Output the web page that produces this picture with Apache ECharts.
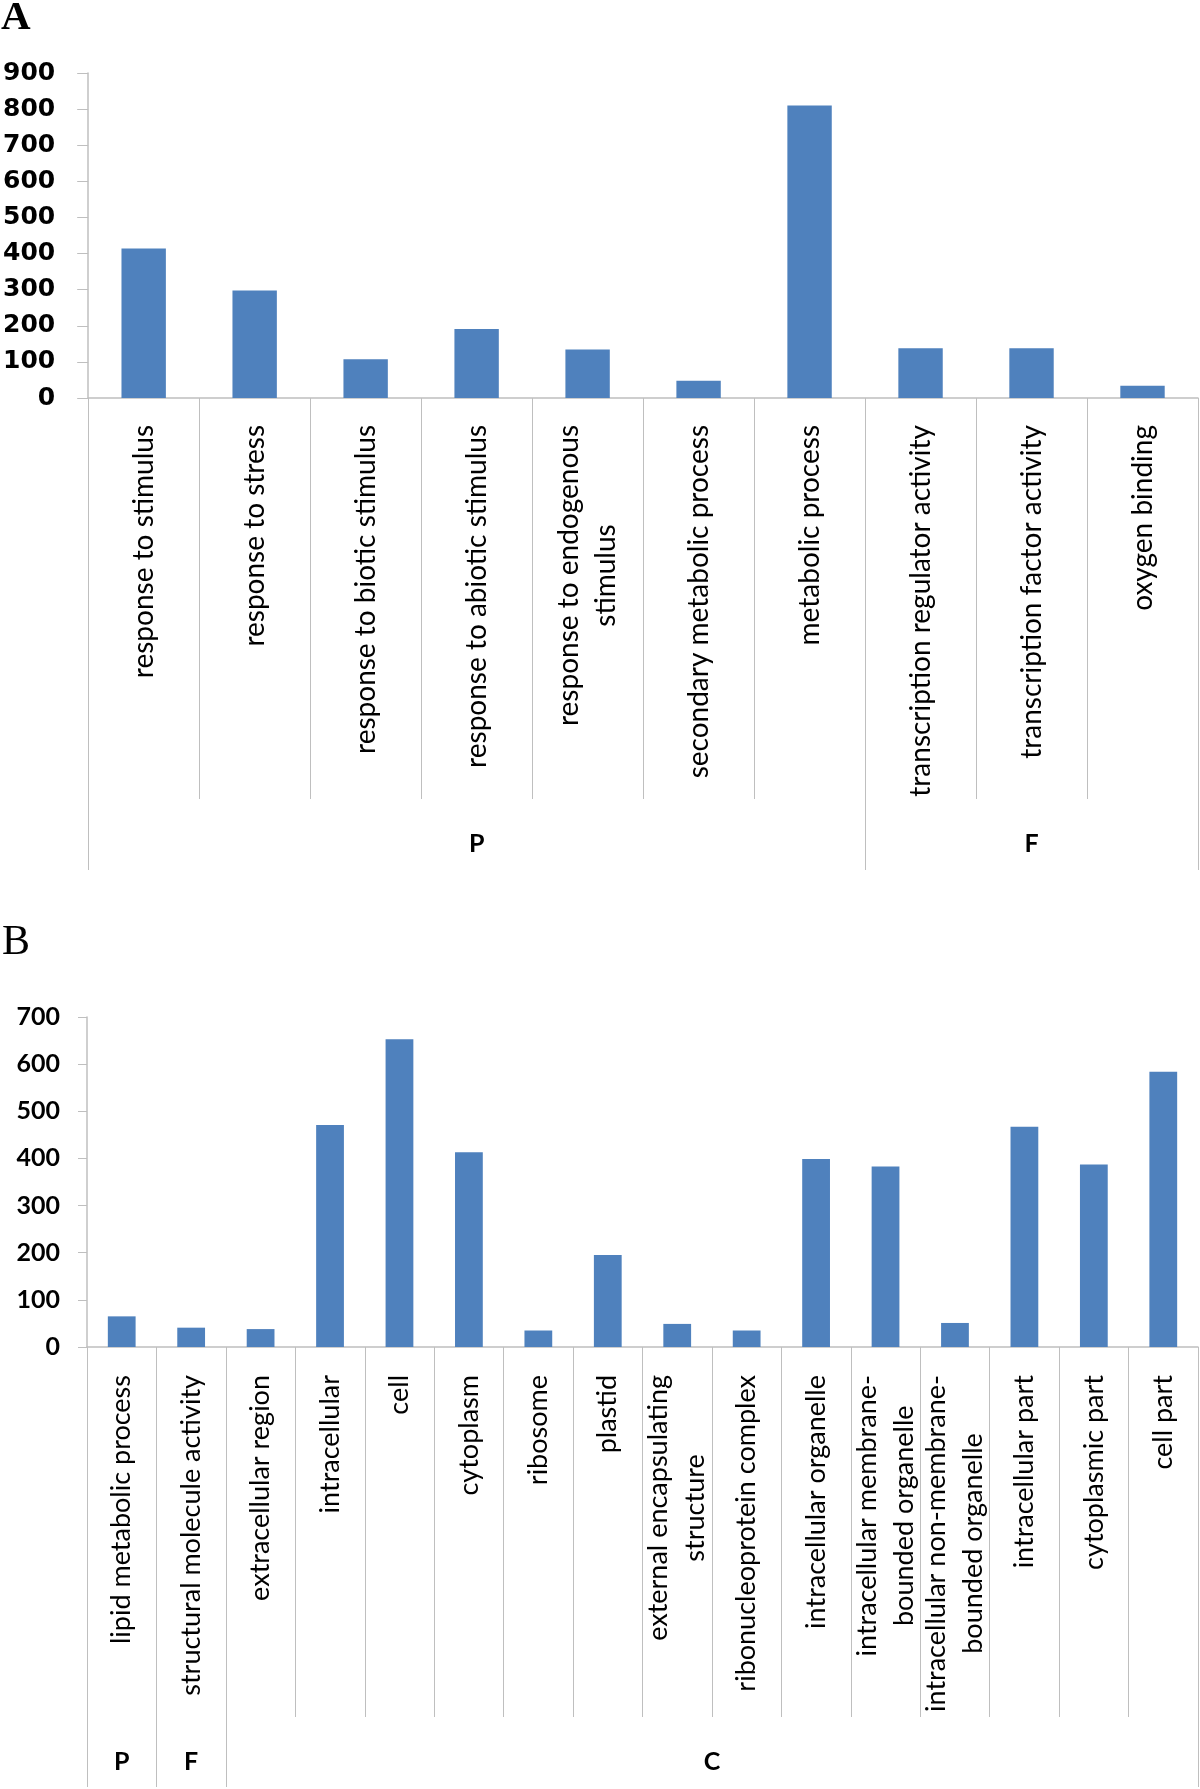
<!DOCTYPE html>
<html>
<head>
<meta charset="utf-8">
<script src="https://cdn.jsdelivr.net/npm/echarts@6/dist/echarts.min.js"></script>
<style>
html, body { margin: 0; padding: 0; background: #fff; }
#chart { width: 1200px; height: 1789px; }
</style>
</head>
<body>
<div id="chart"></div>
<script>
// ---- Data: panel A ----
const categoriesA = ['response to stimulus', 'response to stress', 'response to biotic stimulus',
  'response to abiotic stimulus', 'response to endogenous\nstimulus', 'secondary metabolic process',
  'metabolic process', 'transcription regulator activity', 'transcription factor activity', 'oxygen binding'];
const valuesA = [414, 298, 107, 191, 134, 48, 810, 138, 138, 34];
const groupNamesA = ['P', 'F'];
const groupBoundsA = [0, 7, 10];
const yTicksA = { min: 0, max: 900, interval: 100 };

// ---- Data: panel B ----
const categoriesB = ['lipid metabolic process', 'structural molecule activity', 'extracellular region',
  'intracellular', 'cell', 'cytoplasm', 'ribosome', 'plastid', 'external encapsulating\nstructure',
  'ribonucleoprotein complex', 'intracellular organelle', 'intracellular membrane-\nbounded organelle',
  'intracellular non-membrane-\nbounded organelle', 'intracellular part', 'cytoplasmic part', 'cell part'];
const valuesB = [65, 41, 38, 471, 653, 413, 35, 195, 49, 35, 399, 383, 51, 467, 387, 584];
const groupNamesB = ['P', 'F', 'C'];
const groupBoundsB = [0, 1, 2, 16];
const yTicksB = { min: 0, max: 700, interval: 100 };

// ---- Styling ----
const BAR = '#4F81BD';
const AXIS = '#BFBFBF';

function mids(bounds) {
  const m = [];
  for (let i = 0; i < bounds.length - 1; i++) m.push((bounds[i] + bounds[i + 1]) / 2);
  return m;
}
function richWrap(v) {
  return v.split('\n').map(s => '{c|' + s + '}').join('\n');
}

function panel(idx, cats, vals, groups, bounds, yt, cfg) {
  const m = mids(bounds);
  const xCat = {
    type: 'category', gridIndex: idx, data: cats, position: 'bottom',
    axisLine: { show: true, lineStyle: { color: AXIS, width: 1.5 } },
    axisTick: { show: true, interval: 0, alignWithLabel: false, length: cfg.catTickLen,
      lineStyle: { color: AXIS, width: 1 } },
    axisLabel: {
      interval: 0, rotate: 90, margin: cfg.labelMargin, color: '#000',
      formatter: richWrap,
      rich: { c: { align: 'center', fontFamily: 'Lato', fontSize: cfg.labelSize,
        lineHeight: cfg.labelLine, color: '#000' } }
    },
    splitLine: { show: false }
  };
  const xGroup = {
    type: 'value', gridIndex: idx, position: 'bottom', min: 0, max: cats.length,
    axisLine: { show: false },
    splitLine: { show: false },
    axisTick: { show: true, customValues: bounds, length: cfg.groupTickLen,
      lineStyle: { color: AXIS, width: 1 } },
    axisLabel: {
      show: true, customValues: m, margin: cfg.groupMargin, verticalAlign: 'middle',
      fontFamily: 'Lato', fontWeight: 'bold', fontSize: 25, color: '#000',
      formatter: v => { const i = m.findIndex(x => Math.abs(x - v) < 1e-6); return i >= 0 ? groups[i] : ''; }
    }
  };
  const y = {
    type: 'value', gridIndex: idx, min: yt.min, max: yt.max, interval: yt.interval,
    axisLine: { show: true, lineStyle: { color: AXIS, width: 1.5 } },
    axisTick: { show: true, length: cfg.yTickLen, lineStyle: { color: AXIS } },
    splitLine: { show: false },
    axisLabel: { margin: cfg.yMargin, color: '#000', fontFamily: cfg.yFont,
      fontWeight: 'bold', fontSize: cfg.ySize }
  };
  return { xCat, xGroup, y };
}

const pA = panel(0, categoriesA, valuesA, groupNamesA, groupBoundsA, yTicksA, {
  catTickLen: 401, groupTickLen: 472, labelMargin: 27, labelSize: 28, labelLine: 37,
  groupMargin: 446, yTickLen: 11, yMargin: 33, yFont: 'DejaVu Sans', ySize: 25
});
const pB = panel(1, categoriesB, valuesB, groupNamesB, groupBoundsB, yTicksB, {
  catTickLen: 370, groupTickLen: 440, labelMargin: 28, labelSize: 27, labelLine: 37,
  groupMargin: 415, yTickLen: 9, yMargin: 27, yFont: 'Lato', ySize: 25
});

const chart = echarts.init(document.getElementById('chart'), null, { renderer: 'canvas' });
chart.setOption({
  animation: false,
  backgroundColor: '#fff',
  title: [
    { text: 'A', left: 1, top: -2, padding: 0,
      textStyle: { fontFamily: 'Liberation Serif', fontWeight: 'bold', fontSize: 41, color: '#000' } },
    { text: 'B', left: 2, top: 922, padding: 0,
      textStyle: { fontFamily: 'Liberation Serif', fontWeight: 'normal', fontSize: 42, color: '#000' } }
  ],
  grid: [
    { left: 85, top: 73, width: 1113, height: 325, containLabel: false },
    { left: 87, top: 1017, width: 1111, height: 330, containLabel: false }
  ],
  xAxis: [pA.xCat, pA.xGroup, pB.xCat, pB.xGroup],
  yAxis: [pA.y, pB.y],
  series: [
    { type: 'bar', xAxisIndex: 0, yAxisIndex: 0, data: valuesA, barWidth: '40%',
      itemStyle: { color: BAR } },
    { type: 'bar', xAxisIndex: 2, yAxisIndex: 1, data: valuesB, barWidth: '40%',
      itemStyle: { color: BAR } }
  ]
});
</script>
</body>
</html>
